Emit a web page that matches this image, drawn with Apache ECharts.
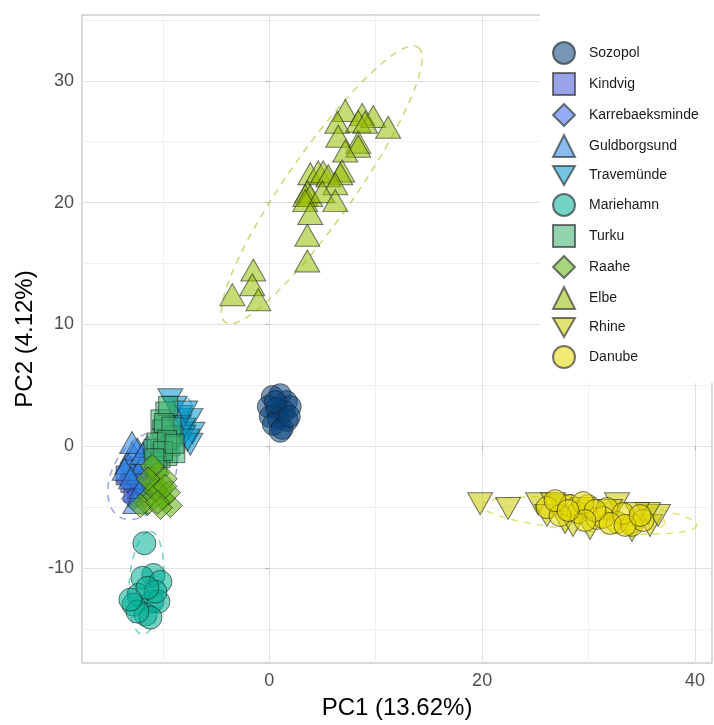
<!DOCTYPE html>
<html>
<head>
<meta charset="utf-8">
<script src="https://cdn.jsdelivr.net/npm/echarts@6/dist/echarts.min.js"></script>
<style>
html,body{margin:0;padding:0;background:#fff;}
#chart{width:714px;height:725px;}
</style>
</head>
<body>
<div id="chart"></div>
<script>
// ---- data (PC1, PC2) ----
const groups = ['Sozopol','Kindvig','Karrebaeksminde','Guldborgsund','Travemünde','Mariehamn','Turku','Raahe','Elbe','Rhine','Danube'];
const xTicks = [0, 20, 40];
const xMinorTicks = [-10, 10, 30];
const yTicks = [-10, 0, 10, 20, 30];
const yMinorTicks = [-15, -5, 5, 15, 25, 35];

const sozopol = [[0.28,4.07],[1.03,4.23],[1.60,3.66],[-0.09,3.25],[0.66,3.09],[1.41,2.85],[1.97,3.25],[0.09,2.44],[0.85,2.28],[1.69,2.11],[0.38,1.79],[1.22,1.46],[1.03,1.22],[0.56,3.66],[1.88,2.44]];
const kindvig = [[-13.05,-3.01],[-12.30,-3.25],[-12.77,-3.82],[-11.46,-2.44],[-13.5,-2.4],[-12.0,-2.8],[-12.4,-4.2]];
const karrebaeksminde = [[-13.24,-2.85],[-12.58,-2.44],[-11.92,-3.66],[-12.77,-4.31],[-11.46,-3.01],[-13.0,-1.8],[-12.2,-3.0]];
const guldborgsund = [[-12.86,-0.57],[-13.33,-1.38],[-12.30,-2.20],[-11.83,-1.38],[-12.39,-0.24],[-12.58,-4.63],[-11.46,0.00],[-13.6,-1.9],[-12.9,0.3],[-11.9,-0.6],[-13.0,-2.6],[-12.0,-3.4]];
const travemunde = [[-9.30,3.82],[-7.42,2.20],[-7.23,1.06],[-7.42,0.16],[-8.36,2.44],[-8.54,1.63],[-8.08,0.81],[-8.9,3.2],[-7.9,2.8],[-8.1,1.4],[-7.7,0.5]];
const mariehamn = [[-11.74,-7.97],[-10.89,-10.57],[-11.92,-10.81],[-10.23,-11.14],[-12.30,-12.20],[-10.99,-12.76],[-12.77,-13.01],[-10.42,-12.76],[-11.64,-13.82],[-11.17,-14.07],[-12.39,-13.58],[-10.70,-11.95],[-11.46,-11.63],[-13.05,-12.60]];
const turku = [[-9.77,2.85],[-10.23,2.20],[-10.05,1.38],[-10.23,0.57],[-9.30,0.00],[-10.89,-0.24],[-9.58,-0.81],[-9.01,0.81],[-10.23,-0.98],[-10.52,-1.63],[-8.83,-0.57],[-9.5,3.3],[-9.9,1.9],[-9.2,1.6],[-10.6,0.3],[-9.6,0.5],[-10.0,-0.4],[-8.9,0.2],[-10.8,-1.0]];
const raahe = [[-10.89,-3.01],[-10.23,-3.50],[-11.17,-4.07],[-9.95,-4.31],[-10.52,-2.20],[-9.77,-2.68],[-11.46,-4.72],[-9.30,-4.88],[-10.23,-5.04],[-10.99,-1.63],[-9.48,-3.82],[-12.11,-4.88],[-10.7,-3.6],[-11.4,-2.7],[-9.8,-3.3],[-10.5,-4.6]];
const elbe = [[7.14,27.56],[8.73,27.24],[9.77,27.07],[11.17,26.18],[6.38,26.59],[8.36,26.67],[9.01,26.59],[6.48,25.45],[8.36,24.96],[8.36,24.63],[7.14,24.23],[6.85,22.60],[6.67,22.36],[3.85,22.36],[4.60,22.52],[5.07,22.52],[5.54,22.20],[6.20,21.54],[3.57,20.89],[3.38,20.57],[3.85,20.57],[4.98,20.89],[3.38,20.16],[6.20,20.16],[3.85,19.11],[3.57,17.32],[3.57,15.20],[-1.50,14.47],[-1.60,13.25],[-3.47,12.44],[-1.03,12.03]];
const rhine = [[19.81,-4.72],[22.44,-5.12],[25.26,-4.72],[26.10,-5.69],[27.32,-4.88],[27.79,-6.26],[30.14,-6.75],[32.68,-4.72],[34.08,-6.91],[35.77,-6.50],[36.53,-5.69],[35.59,-5.53],[34.55,-5.53],[28.54,-6.50],[26.67,-4.72],[32.02,-5.28],[29.48,-5.12]];
const danube = [[26.10,-5.04],[28.26,-4.88],[29.01,-5.45],[29.95,-4.88],[30.80,-5.93],[31.74,-5.12],[32.68,-6.26],[34.08,-6.50],[35.12,-6.10],[27.32,-5.69],[29.48,-4.63],[31.36,-5.85],[33.24,-5.53],[32.02,-6.34],[26.85,-4.47],[30.61,-5.28],[29.67,-6.10],[28.08,-5.28],[33.43,-6.50],[34.84,-5.69]];

// ellipse outlines: [centerX, centerY, axis1X, axis1Y, axis2X, axis2Y]
const ellipseElbe = [4.93, 21.46, 9.06, 11.30, 2.62, -1.58];
const ellipseRhine = [30.10, -5.69, 10.09, -0.81, -0.14, -1.30];
const ellipseDanube = [31.0, -5.6, 6.2, -0.7, -0.1, -1.0];
const ellipseMariehamn = [-11.55, -11.22, 0.38, 4.23, 1.60, -0.11];
const ellipseKindvig = [-11.9, -2.44, 2.07, 3.41, 2.55, -1.11];
const ellipseTravemunde = [-8.6, 1.63, 0.94, 2.28, 0.94, -0.28];

const groupData = [sozopol, kindvig, karrebaeksminde, guldborgsund, travemunde, mariehamn, turku, raahe, elbe, rhine, danube];
const colors = ['#07417b','#4357d5','#3c69ee','#2b84e6','#0096cb','#00af96','#39b16e','#61b111','#96be00','#cbcb00','#e6d900'];
const INV = 'path://M0,0L20,0L10,17.3Z';
const symbols = ['circle','rect','diamond','triangle',INV,'circle','rect','diamond','triangle',INV,'circle'];
const symbolSizes = [22, 19, [24,24], [25,22], [25,22], 23, 19, [24,24], [25,22], [25,22], 22];
const ellipses = [
  {g: 'Elbe', p: ellipseElbe},
  {g: 'Rhine', p: ellipseRhine},
  {g: 'Danube', p: ellipseDanube},
  {g: 'Mariehamn', p: ellipseMariehamn},
  {g: 'Kindvig', p: ellipseKindvig},
  {g: 'Travemünde', p: ellipseTravemunde}
];

function hexA(hex, a) {
  const n = parseInt(hex.slice(1), 16);
  return 'rgba(' + ((n >> 16) & 255) + ',' + ((n >> 8) & 255) + ',' + (n & 255) + ',' + a + ')';
}
function outline(p) {
  const pts = [];
  for (let i = 0; i <= 120; i++) {
    const t = i / 120 * Math.PI * 2;
    pts.push([p[0] + Math.cos(t) * p[2] + Math.sin(t) * p[4], p[1] + Math.cos(t) * p[3] + Math.sin(t) * p[5]]);
  }
  return pts;
}

const series = [];
ellipses.forEach(e => {
  const idx = groups.indexOf(e.g);
  series.push({
    name: e.g + ' ellipse', type: 'line', data: outline(e.p), showSymbol: false, symbol: 'none',
    silent: true, z: 1, animation: false,
    lineStyle: {color: hexA(colors[idx], 0.55), width: 1.5, type: [7, 6]}
  });
});
groups.forEach((g, i) => {
  series.push({
    name: g, type: 'scatter', data: groupData[i], symbol: symbols[i], symbolSize: symbolSizes[i],
    z: 2, animation: false,
    itemStyle: {color: hexA(colors[i], 0.55), borderColor: 'rgba(30,30,30,0.6)', borderWidth: 1, opacity: 1}
  });
});

const FONT = 'Liberation Sans';
const tickLab = {fontSize: 18, color: '#4d4d4d', fontFamily: FONT};
const chart = echarts.init(document.getElementById('chart'), null, {renderer: 'canvas'});
chart.setOption({
  backgroundColor: '#fff',
  animation: false,
  grid: {left: 82, right: 2, top: 15, bottom: 56, show: true, borderColor: '#b3b3b3', borderWidth: 1, backgroundColor: 'transparent'},
  xAxis: [
    {type: 'value', min: -17.6, max: 41.6, name: 'PC1 (13.62%)', nameLocation: 'middle', nameGap: 33,
     nameTextStyle: {fontSize: 24, color: '#000', fontFamily: FONT},
     axisLine: {show: false},
     axisTick: {show: true, customValues: xTicks, length: 4, lineStyle: {color: '#b3b3b3'}},
     axisLabel: {customValues: xTicks, margin: 9, ...tickLab},
     splitLine: {show: true, lineStyle: {color: '#e0e0e0', width: 1}}},
    {type: 'value', min: -17.6, max: 41.6, position: 'bottom',
     axisLine: {show: false}, axisTick: {show: false, customValues: xMinorTicks}, axisLabel: {show: false, customValues: xMinorTicks},
     splitLine: {show: true, lineStyle: {color: '#f0f0f0', width: 1}}}
  ],
  yAxis: [
    {type: 'value', min: -17.8, max: 35.4, name: 'PC2 (4.12%)', nameLocation: 'middle', nameGap: 40,
     nameTextStyle: {fontSize: 24, color: '#000', fontFamily: FONT},
     axisLine: {show: false},
     axisTick: {show: true, customValues: yTicks, length: 4, lineStyle: {color: '#b3b3b3'}},
     axisLabel: {customValues: yTicks, margin: 8, ...tickLab},
     splitLine: {show: true, lineStyle: {color: '#e0e0e0', width: 1}}},
    {type: 'value', min: -17.8, max: 35.4, position: 'left',
     axisLine: {show: false}, axisTick: {show: false, customValues: yMinorTicks}, axisLabel: {show: false, customValues: yMinorTicks},
     splitLine: {show: true, lineStyle: {color: '#f0f0f0', width: 1}}}
  ],
  legend: {
    data: groups, orient: 'vertical', left: 540, top: 14,
    padding: [27, 24, 14, 12], itemGap: 7, itemWidth: 22, itemHeight: 22,
    backgroundColor: '#fff', selectedMode: false,
    textStyle: {fontSize: 14, color: '#1a1a1a', fontFamily: FONT, padding: [0, 0, 0, 9], lineHeight: 18}
  },
  series: series
});
</script>
</body>
</html>
